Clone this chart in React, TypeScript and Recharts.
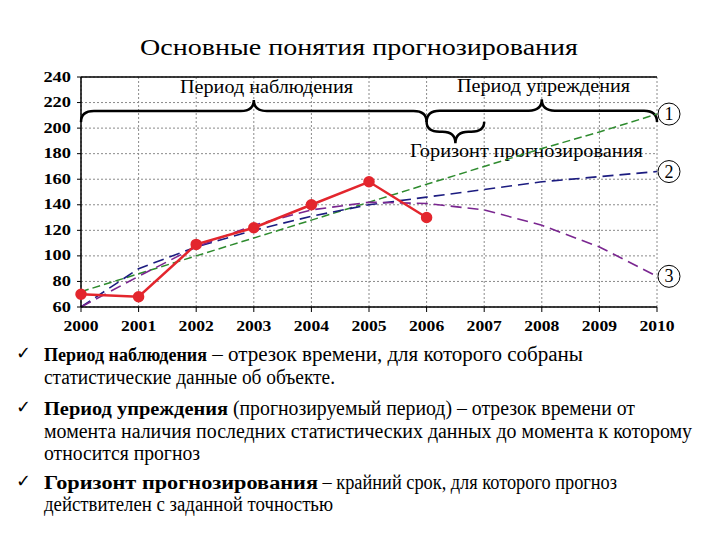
import React from 'react';
import {
  LineChart, Line, XAxis, YAxis, CartesianGrid, ReferenceLine, ReferenceArea, ReferenceDot,
} from 'recharts';

const years = [2000, 2001, 2002, 2003, 2004, 2005, 2006, 2007, 2008, 2009, 2010];
const actual = [70, 68, 109, 122, 140, 158, 130];
const linearTrend = [72, 86, 100, 114, 128, 142, 156, 170, 184, 197, 211];
const logTrend = [60, 90, 107, 120, 131, 140, 146, 152, 158, 162, 166];
const polyTrend = [60, 84, 107, 124, 136, 142, 141, 136, 124, 107, 84];
const yTicks = [60, 80, 100, 120, 140, 160, 180, 200, 220, 240];
const title = 'Основные понятия прогнозирования';
const labelObs = 'Период наблюдения';
const labelLead = 'Период упреждения';
const labelHorizon = 'Горизонт прогнозирования';

const data = years.map((year, i) => ({
  year,
  actual: i < actual.length ? actual[i] : undefined,
  lin: linearTrend[i],
  log: logTrend[i],
  poly: polyTrend[i],
}));

const serif = '"Liberation Serif", "Times New Roman", serif';

const XTick = (props: any) => {
  const { x, y, payload } = props;
  const s = String(payload.value);
  return (
    <text x={x} y={y + 10} textAnchor="middle" fontFamily={serif} fontWeight="bold" fontSize={14}
      fill="#000" textLength={s.length * 8.8} lengthAdjust="spacingAndGlyphs">{s}</text>
  );
};

const YTick = (props: any) => {
  const { x, y, payload } = props;
  const s = String(payload.value);
  return (
    <text x={x} y={y + 4.5} textAnchor="end" fontFamily={serif} fontWeight="bold" fontSize={14}
      fill="#000" textLength={s.length * 9.2} lengthAdjust="spacingAndGlyphs">{s}</text>
  );
};

function bracePath(x1: number, x2: number, yb: number, endDy: number, tipDy: number) {
  const xm = (x1 + x2) / 2;
  const r = Math.min(13, (x2 - x1) / 4);
  return `M${x1},${yb + endDy} Q${x1},${yb} ${x1 + r},${yb} L${xm - r},${yb} Q${xm},${yb} ${xm},${yb + tipDy} Q${xm},${yb} ${xm + r},${yb} L${x2 - r},${yb} Q${x2},${yb} ${x2},${yb + endDy}`;
}

const BraceUp = (label: string, textDx: number, textLen: number) => (props: any) => {
  const { x, y, width, height } = props;
  const yb = y + height * 0.5;
  return (
    <g>
      <path d={bracePath(x, x + width, yb, height * 0.5, -height * 0.5)} fill="none" stroke="#000" strokeWidth={2.5} />
      <text x={x + width / 2 + textDx} y={y - 7} textAnchor="middle" fontFamily={serif} fontSize={18} fill="#000"
        textLength={textLen} lengthAdjust="spacingAndGlyphs">{label}</text>
    </g>
  );
};

const BraceDown = (label: string, textDx: number, textLen: number) => (props: any) => {
  const { x, y, width, height } = props;
  const yb = y + height * 0.46;
  return (
    <g>
      <path d={bracePath(x, x + width, yb, -height * 0.46, height * 0.54)} fill="none" stroke="#000" strokeWidth={2.5} />
      <text x={x + width / 2 + textDx} y={y + height + 14} textAnchor="middle" fontFamily={serif} fontSize={18} fill="#000"
        textLength={textLen} lengthAdjust="spacingAndGlyphs">{label}</text>
    </g>
  );
};

const circled = (n: string) => (props: any) => {
  const { cx, cy } = props;
  return (
    <g>
      <circle cx={cx + 12} cy={cy} r={11} fill="#fff" stroke="#000" strokeWidth={1} />
      <text x={cx + 12} y={cy + 6} textAnchor="middle" fontFamily={serif} fontSize={18} fill="#000">{n}</text>
    </g>
  );
};

type Seg = { text: string; bold?: boolean; x0: number; x1: number };
const bodyLines: { segs: Seg[]; y: number; check?: boolean }[] = [
  { y: 361, check: true, segs: [
    { text: 'Период наблюдения', bold: true, x0: 44, x1: 207 },
    { text: ' – отрезок времени, для которого собраны', x0: 207, x1: 583 },
  ] },
  { y: 384, segs: [{ text: 'статистические данные об объекте.', x0: 44, x1: 335 }] },
  { y: 415, check: true, segs: [
    { text: 'Период упреждения', bold: true, x0: 44, x1: 228 },
    { text: ' (прогнозируемый период) – отрезок времени от', x0: 228, x1: 635 },
  ] },
  { y: 438, segs: [{ text: 'момента наличия последних статистических данных до момента к которому', x0: 44, x1: 692 }] },
  { y: 460, segs: [{ text: 'относится прогноз', x0: 44, x1: 200 }] },
  { y: 489, check: true, segs: [
    { text: 'Горизонт прогнозирования', bold: true, x0: 44, x1: 318 },
    { text: ' – крайний срок, для которого прогноз', x0: 318, x1: 617 },
  ] },
  { y: 511, segs: [{ text: 'действителен с заданной точностью', x0: 44, x1: 333 }] },
];

export default function App() {
  return (
    <div style={{ position: 'absolute', left: 0, top: 0, width: 720, height: 540, background: '#fff' }}>
      <svg width={720} height={540} style={{ position: 'absolute', left: 0, top: 0 }}>
        <text x={359} y={55} textAnchor="middle" fontFamily={serif} fontSize={24} fill="#000"
          textLength={438} lengthAdjust="spacingAndGlyphs">{title}</text>
        {bodyLines.map((ln, li) => (
          <g key={li}>
            {ln.check && (
              <text x={16} y={ln.y - 2} fontFamily='"DejaVu Sans", sans-serif' fontSize={18} fill="#000">✓</text>
            )}
            {ln.segs.map((s, si) => (
              <text key={si} x={s.x0} y={ln.y} fontFamily={serif} fontWeight={s.bold ? 'bold' : 'normal'}
                fontSize={s.bold ? 18.5 : 20} fill="#000" textLength={s.x1 - s.x0} lengthAdjust="spacingAndGlyphs"
                style={{ whiteSpace: 'pre' }}>{s.text}</text>
            ))}
          </g>
        ))}
      </svg>
      <div style={{ position: 'absolute', left: 0, top: 0 }}>
        <LineChart width={720} height={540} data={data} margin={{ top: 77, right: 63, bottom: 203, left: 41 }}>
          <CartesianGrid stroke="#8a8a8a" strokeDasharray="2 2" strokeWidth={1} />
          <XAxis
            type="number"
            dataKey="year"
            domain={[2000, 2010]}
            ticks={years}
            tick={<XTick />}
            tickSize={5}
            tickMargin={9}
            axisLine={{ stroke: '#000', strokeWidth: 1.5 }}
            tickLine={{ stroke: '#000' }}
          />
          <YAxis
            width={40}
            domain={[60, 240]}
            ticks={yTicks}
            tick={<YTick />}
            tickSize={4}
            tickMargin={6}
            axisLine={{ stroke: '#000', strokeWidth: 1.5 }}
            tickLine={{ stroke: '#000' }}
          />
          <ReferenceLine y={240} stroke="#000" strokeWidth={1.5} />
          <Line dataKey="lin" stroke="#2e8b2e" strokeWidth={1.5} strokeDasharray="8 4" dot={false} isAnimationActive={false} />
          <Line dataKey="log" stroke="#1c1c80" strokeWidth={1.6} strokeDasharray="11 6" dot={false} isAnimationActive={false} />
          <Line dataKey="poly" stroke="#7a2690" strokeWidth={1.6} strokeDasharray="11 6" dot={false} isAnimationActive={false} />
          <Line
            dataKey="actual"
            stroke="#e3262d"
            strokeWidth={2.5}
            dot={{ r: 4.5, fill: '#e3262d', stroke: '#e3262d' }}
            isAnimationActive={false}
          />
          <ReferenceArea x1={2000} x2={2006} y1={204.7} y2={222} ifOverflow="visible" fill="none" shape={BraceUp(labelObs, 12.7, 173)} />
          <ReferenceArea x1={2006} x2={2010} y1={204.7} y2={222.5} ifOverflow="visible" fill="none" shape={BraceUp(labelLead, 1.7, 173)} />
          <ReferenceArea x1={2006} x2={2007} y1={188.1} y2={205} ifOverflow="visible" fill="none" shape={BraceDown(labelHorizon, 71, 233)} />
          <ReferenceDot x={2010} y={linearTrend[10]} ifOverflow="visible" shape={circled('1')} />
          <ReferenceDot x={2010} y={logTrend[10]} ifOverflow="visible" shape={circled('2')} />
          <ReferenceDot x={2010} y={polyTrend[10]} ifOverflow="visible" shape={circled('3')} />
        </LineChart>
      </div>
    </div>
  );
}
